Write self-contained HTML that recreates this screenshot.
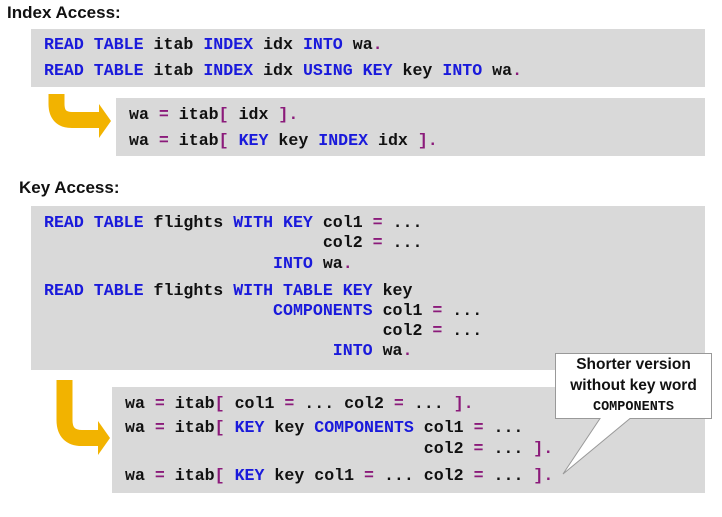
<!DOCTYPE html>
<html><head><style>
body{margin:0;width:722px;height:517px;background:#fff;position:relative;overflow:hidden;font-family:"Liberation Sans",Arial,sans-serif}
.h{position:absolute;font-weight:bold;font-size:17px;color:#111}
.box{position:absolute;background:#d9d9d9}
pre{position:absolute;margin:0;font-family:"Liberation Mono",monospace;font-weight:bold;font-size:16.6px;color:#111;line-height:20px}
.b{color:#1a1adb}.p{color:#8b1a7a}
svg{position:absolute;left:0;top:0}
</style></head><body>
<div class="h" style="left:7px;top:3px">Index Access:</div>
<div class="box" style="left:31px;top:29px;width:674px;height:58px"></div>
<pre style="left:44px;top:35px"><span class="b">READ TABLE</span> itab <span class="b">INDEX</span> idx <span class="b">INTO</span> wa<span class="p">.</span></pre>
<pre style="left:44px;top:61px"><span class="b">READ TABLE</span> itab <span class="b">INDEX</span> idx <span class="b">USING KEY</span> key <span class="b">INTO</span> wa<span class="p">.</span></pre>
<div class="box" style="left:116px;top:98px;width:589px;height:58px"></div>
<pre style="left:129px;top:105px">wa <span class="p">=</span> itab<span class="p">[</span> idx <span class="p">].</span></pre>
<pre style="left:129px;top:131px">wa <span class="p">=</span> itab<span class="p">[</span> <span class="b">KEY</span> key <span class="b">INDEX</span> idx <span class="p">].</span></pre>

<div class="h" style="left:19px;top:178px">Key Access:</div>
<div class="box" style="left:31px;top:206px;width:674px;height:164px"></div>
<pre style="left:44px;top:213px"><span class="b">READ TABLE</span> flights <span class="b">WITH KEY</span> col1 <span class="p">=</span> ...</pre>
<pre style="left:44px;top:233px">                            col2 <span class="p">=</span> ...</pre>
<pre style="left:44px;top:254px">                       <span class="b">INTO</span> wa<span class="p">.</span></pre>
<pre style="left:44px;top:281px"><span class="b">READ TABLE</span> flights <span class="b">WITH TABLE KEY</span> key</pre>
<pre style="left:44px;top:301px">                       <span class="b">COMPONENTS</span> col1 <span class="p">=</span> ...</pre>
<pre style="left:44px;top:321px">                                  col2 <span class="p">=</span> ...</pre>
<pre style="left:44px;top:341px">                             <span class="b">INTO</span> wa<span class="p">.</span></pre>

<div class="box" style="left:112px;top:387px;width:593px;height:106px"></div>
<pre style="left:125px;top:394px">wa <span class="p">=</span> itab<span class="p">[</span> col1 <span class="p">=</span> ... col2 <span class="p">=</span> ... <span class="p">].</span></pre>
<pre style="left:125px;top:418px">wa <span class="p">=</span> itab<span class="p">[</span> <span class="b">KEY</span> key <span class="b">COMPONENTS</span> col1 <span class="p">=</span> ...</pre>
<pre style="left:125px;top:439px">                              col2 <span class="p">=</span> ... <span class="p">].</span></pre>
<pre style="left:125px;top:466px">wa <span class="p">=</span> itab<span class="p">[</span> <span class="b">KEY</span> key col1 <span class="p">=</span> ... col2 <span class="p">=</span> ... <span class="p">].</span></pre>

<svg width="722" height="517">
<path d="M56.5 94 V104 Q56.5 120 72 120 H101" fill="none" stroke="#f2b300" stroke-width="16"/>
<path d="M99 104 L111 121 L99 138 Z" fill="#f2b300"/>
<path d="M64.5 380 V420 Q64.5 438 82 438 H100" fill="none" stroke="#f2b300" stroke-width="16"/>
<path d="M98 421 L110 438 L98 455 Z" fill="#f2b300"/>
<path d="M555.5 353.5 H711.5 V418.5 H630 L563 474 L600 418.5 H555.5 Z" fill="#fff" stroke="#999" stroke-width="1"/>
</svg>
<div style="position:absolute;left:556px;top:355px;width:155px;text-align:center;font-weight:bold;font-size:15.5px;line-height:20.5px;color:#111">Shorter version<br>without key word<br><span style="font-family:'Liberation Mono',monospace;font-size:13.5px">COMPONENTS</span></div>
</body></html>
